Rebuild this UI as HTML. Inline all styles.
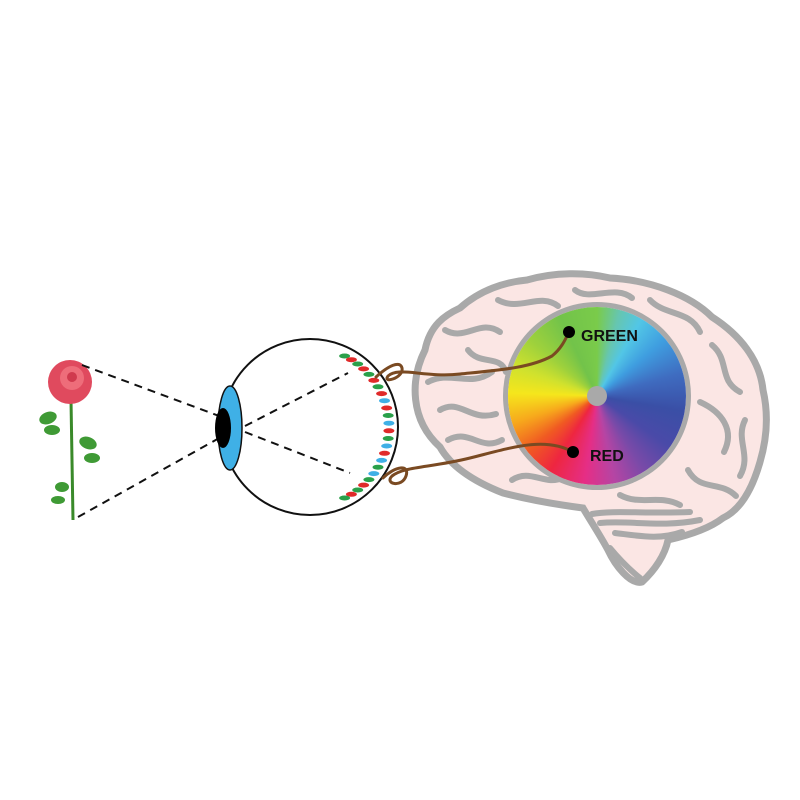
<!DOCTYPE html>
<html><head><meta charset="utf-8"><style>
html,body{margin:0;padding:0;background:#fff;width:800px;height:800px;overflow:hidden;position:relative;font-family:"Liberation Sans",sans-serif}
svg{position:absolute;left:0;top:0}
#wheel{position:absolute;left:508px;top:307px;width:178px;height:178px;border-radius:50%;
background:conic-gradient(from 0deg,#7acb4a 0deg,#66c6b0 15deg,#52c6e6 30deg,#3f9ee0 50deg,#3f6cc0 75deg,#3a4fa6 100deg,#4a4aa8 125deg,#7a4aa8 148deg,#b545a4 168deg,#e52e86 188deg,#ee2640 212deg,#f05a22 232deg,#f7a81c 252deg,#f5e61c 272deg,#cfe12e 290deg,#9ed13c 310deg,#72c34a 335deg,#7acb4a 360deg);
box-shadow:0 0 0 5px #a9a9a9}
</style></head><body>
<svg width="800" height="800" viewBox="0 0 800 800">
<path d="M440,447 C410,420 410,380 425,350 C430,325 445,315 460,308 C480,290 505,282 527,280 C555,272 585,272 610,278 C650,280 690,295 712,317 C740,335 760,360 763,390 C770,420 765,445 760,462 C752,490 740,510 723,518 C710,528 690,535 668,540 C665,555 655,570 642,582 C630,585 615,565 608,550 C600,535 590,520 583,508 C560,505 530,500 503,493 C470,480 450,465 440,447 Z" fill="#fbe6e4" stroke="#a9a9a9" stroke-width="7"/>
<g fill="none" stroke="#a9a9a9" stroke-width="6" stroke-linecap="round">
<path d="M428,382 C450,370 470,388 492,372"/>
<path d="M445,330 C465,342 480,318 500,332"/>
<path d="M498,300 C520,312 540,292 558,306"/>
<path d="M575,290 C590,302 615,284 632,298"/>
<path d="M650,300 C665,316 690,310 700,332"/>
<path d="M712,345 C730,360 718,380 740,392"/>
<path d="M700,402 C722,412 735,430 724,452"/>
<path d="M745,420 C735,440 752,455 740,476"/>
<path d="M688,470 C700,492 720,480 736,496"/>
<path d="M620,495 C640,506 660,494 680,505"/>
<path d="M512,480 C530,468 545,486 562,478"/>
<path d="M448,440 C470,428 480,452 502,440"/>
<path d="M440,410 C460,398 470,422 496,414"/>
<path d="M468,350 C480,366 500,354 506,372"/>
<path d="M592,514 C612,510 650,514 690,512"/>
<path d="M600,523 C630,520 660,528 700,520"/>
<path d="M615,533 C640,536 660,540 682,532"/>
<path d="M610,548 C620,560 630,570 640,578"/>
</g>
<line x1="71" y1="400" x2="73" y2="520" stroke="#3a8a2a" stroke-width="3"/>
<g fill="#3f9a35">
<ellipse cx="48" cy="418" rx="9" ry="6" transform="rotate(-20 48 418)"/>
<ellipse cx="52" cy="430" rx="8" ry="5"/>
<ellipse cx="88" cy="443" rx="9" ry="6" transform="rotate(20 88 443)"/>
<ellipse cx="92" cy="458" rx="8" ry="5"/>
<ellipse cx="62" cy="487" rx="7" ry="5"/>
<ellipse cx="58" cy="500" rx="7" ry="4"/>
</g>
<circle cx="70" cy="382" r="22" fill="#e04a5e"/>
<circle cx="72" cy="378" r="12" fill="#ee6d7a"/>
<circle cx="72" cy="377" r="5" fill="#d03a4e"/>
<g stroke="#111" stroke-width="2" stroke-dasharray="8,6" fill="none">
<line x1="82" y1="365" x2="230" y2="420"/>
<line x1="78" y1="517" x2="230" y2="432"/>
</g>
<circle cx="310" cy="427" r="88" fill="#fff" stroke="#111" stroke-width="2"/>
<g stroke="#111" stroke-width="2" stroke-dasharray="8,6" fill="none">
<line x1="245" y1="432" x2="350" y2="473"/>
<line x1="245" y1="426" x2="348" y2="373"/>
</g>
<ellipse cx="230" cy="428" rx="12" ry="42" fill="#3fb0e6" stroke="#111" stroke-width="1.5"/>
<ellipse cx="223" cy="428" rx="8" ry="20" fill="#000"/>
<g id="cones"></g>
</svg>
<div id="wheel"></div>
<svg width="800" height="800" viewBox="0 0 800 800">
<circle cx="597" cy="396" r="10" fill="#a9a9a9"/>
<g fill="none" stroke="#7a4a22" stroke-width="3" stroke-linecap="round">
<path d="M376,377 C388,366 400,360 402,368 C404,378 382,384 388,376 C398,366 425,378 460,374 C500,370 530,368 552,356 C562,348 566,338 569,332"/>
<path d="M383,478 C395,466 410,464 406,476 C402,488 384,484 392,476 C405,466 430,468 470,458 C510,448 545,436 573,452"/>
</g>
<circle cx="569" cy="332" r="6" fill="#000"/>
<circle cx="573" cy="452" r="6" fill="#000"/>
<text x="581" y="341" font-family="Liberation Sans" font-weight="bold" font-size="16" fill="#111">GREEN</text>
<text x="590" y="461" font-family="Liberation Sans" font-weight="bold" font-size="16" fill="#111">RED</text>
</svg>
<script>
var g=document.getElementById('cones'),cols=['#2aa04a','#e02a2a','#2aa04a','#e02a2a','#2aa04a','#e02a2a','#2aa04a','#e02a2a','#3fb0e6','#e02a2a','#2aa04a','#3fb0e6','#e02a2a','#2aa04a','#3fb0e6','#e02a2a','#3fb0e6','#2aa04a','#3fb0e6','#2aa04a','#e02a2a','#2aa04a','#e02a2a','#2aa04a'],s='';
for(var i=0;i<cols.length;i++){var a=(-64+i*128/(cols.length-1))*Math.PI/180;var r=79;var x=310+r*Math.cos(a),y=427+r*Math.sin(a);
s+='<ellipse cx="'+x.toFixed(1)+'" cy="'+y.toFixed(1)+'" rx="5.5" ry="2.5" fill="'+cols[i]+'"/>';}
g.innerHTML=s;
</script>
</body></html>
